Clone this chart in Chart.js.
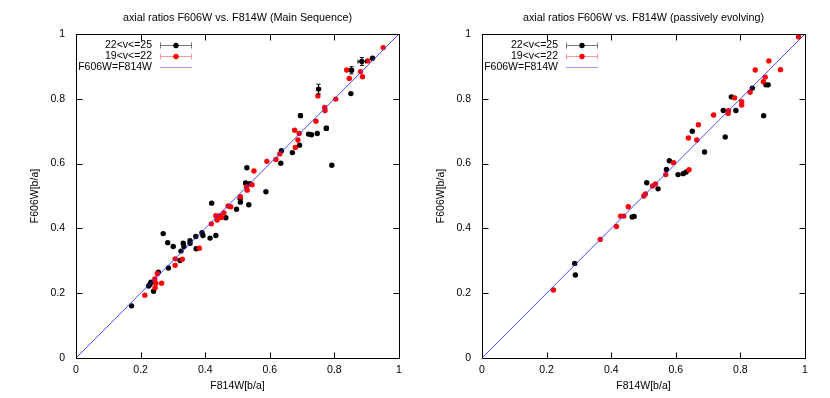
<!DOCTYPE html>
<html><head><meta charset="utf-8">
<script src="https://cdn.jsdelivr.net/npm/chart.js@4/dist/chart.umd.min.js"></script>
<style>
html,body{margin:0;padding:0;background:#fff;}
#wrap{position:relative;width:830px;height:398px;overflow:hidden;}
.panel{position:absolute;top:0;width:415px;height:398px;}
</style></head><body>
<div id="wrap">
<div class="panel" style="left:0"><canvas id="c1" width="415" height="398"></canvas></div>
<div class="panel" style="left:406px"><canvas id="c2" width="415" height="398"></canvas></div>
</div>
<script>
const tickValues = [0, 0.2, 0.4, 0.6, 0.8, 1];
const legendLabels = ['22<v<=25', '19<v<=22', 'F606W=F814W'];
const titles = ['axial ratios F606W vs. F814W (Main Sequence)', 'axial ratios F606W vs. F814W (passively evolving)'];
const xTitle = 'F814W[b/a]';
const yTitle = 'F606W[b/a]';
const diagonal = [[0, 0], [1, 1]];

// Main Sequence, 22<v<=25
const msFaint = [
 [0.918,0.925],[0.885,0.915],[0.853,0.888],[0.851,0.816],[0.751,0.830],[0.695,0.748],
 [0.720,0.691],[0.729,0.689],[0.747,0.693],[0.775,0.709],[0.692,0.657],[0.670,0.634],
 [0.636,0.640],[0.634,0.601],[0.792,0.595],[0.529,0.587],[0.525,0.540],[0.538,0.538],
 [0.588,0.513],[0.508,0.492],[0.509,0.481],[0.420,0.478],[0.535,0.473],[0.497,0.459],
 [0.464,0.433],[0.270,0.384],[0.284,0.356],[0.301,0.344],[0.332,0.354],[0.334,0.344],
 [0.353,0.362],[0.353,0.354],[0.371,0.375],[0.390,0.387],[0.393,0.378],[0.415,0.370],
 [0.433,0.378],[0.325,0.330],[0.372,0.337],[0.322,0.301],[0.286,0.278],[0.255,0.265],
 [0.232,0.234],[0.229,0.227],[0.225,0.222],[0.240,0.206],[0.172,0.161]
];
// Main Sequence, 19<v<=22
const msBright = [
 [0.951,0.958],[0.903,0.917],[0.838,0.889],[0.881,0.884],[0.846,0.863],[0.887,0.868],
 [0.749,0.809],[0.804,0.799],[0.770,0.773],[0.771,0.764],[0.743,0.731],[0.677,0.703],
 [0.691,0.693],[0.687,0.673],[0.679,0.650],[0.631,0.630],[0.619,0.613],[0.591,0.607],
 [0.551,0.577],[0.545,0.535],[0.528,0.528],[0.530,0.518],[0.509,0.498],[0.471,0.469],
 [0.479,0.467],[0.433,0.439],[0.446,0.439],[0.458,0.448],[0.437,0.426],[0.451,0.434],
 [0.419,0.414],[0.382,0.339],[0.307,0.306],[0.329,0.305],[0.307,0.286],[0.252,0.260],
 [0.244,0.244],[0.247,0.231],[0.265,0.231],[0.245,0.217],[0.213,0.194]
];
// error bars on the faint Main Sequence points: x, y, xerr, yerr
const msFaintErr = [
 [0.885,0.915,0.012,0.012],[0.853,0.888,0.004,0.011],[0.751,0.830,0.003,0.015],
 [0.775,0.709,0.006,0.006],[0.695,0.748,0.003,0.006]
];
// passively evolving, 22<v<=25
const peFaint = [
 [0.879,0.843],[0.886,0.843],[0.837,0.833],[0.772,0.806],[0.747,0.764],[0.786,0.764],
 [0.872,0.748],[0.651,0.700],[0.753,0.682],[0.689,0.636],[0.580,0.609],[0.571,0.582],
 [0.632,0.574],[0.623,0.569],[0.607,0.566],[0.510,0.541],[0.545,0.522],[0.465,0.435],
 [0.471,0.437],[0.287,0.292],[0.289,0.256]
];
// passively evolving, 19<v<=22
const peBright = [
 [0.980,0.991],[0.888,0.917],[0.846,0.889],[0.924,0.890],[0.877,0.867],[0.871,0.853],
 [0.830,0.820],[0.782,0.803],[0.804,0.791],[0.804,0.781],[0.763,0.763],[0.762,0.755],
 [0.717,0.750],[0.670,0.720],[0.639,0.679],[0.665,0.673],[0.593,0.603],[0.641,0.581],
 [0.569,0.566],[0.537,0.537],[0.528,0.531],[0.506,0.506],[0.501,0.500],[0.453,0.467],
 [0.429,0.438],[0.439,0.438],[0.416,0.406],[0.366,0.366],[0.221,0.210]
];
const peFaintErr = [];

const FONT = '"Liberation Sans", Arial, sans-serif';
const BLACK = '#000000', RED = '#ff0000', BLUE = '#3333ff';
const R = 2.7;

const toXY = arr => arr.map(p => ({x: p[0], y: p[1]}));

const framePlugin = {
  id: 'frame',
  afterDatasetsDraw(chart, args, opts) {
    const ctx = chart.ctx, a = chart.chartArea;
    const xs = chart.scales.x, ys = chart.scales.y;
    const L = Math.round(a.left) + 0.5, Rr = Math.round(a.right) + 0.5;
    const T = Math.round(a.top) + 0.5, B = Math.round(a.bottom) + 0.5;
    ctx.save();
    // error bars
    ctx.strokeStyle = BLACK; ctx.lineWidth = 1;
    (opts.err || []).forEach(e => {
      const px = xs.getPixelForValue(e[0]), py = ys.getPixelForValue(e[1]);
      const x1 = xs.getPixelForValue(e[0] - e[2]), x2 = xs.getPixelForValue(e[0] + e[2]);
      const y1 = ys.getPixelForValue(e[1] - e[3]), y2 = ys.getPixelForValue(e[1] + e[3]);
      ctx.beginPath();
      ctx.moveTo(x1, py); ctx.lineTo(x2, py);
      ctx.moveTo(x1, py - 2); ctx.lineTo(x1, py + 2);
      ctx.moveTo(x2, py - 2); ctx.lineTo(x2, py + 2);
      ctx.moveTo(px, y1); ctx.lineTo(px, y2);
      ctx.moveTo(px - 2, y1); ctx.lineTo(px + 2, y1);
      ctx.moveTo(px - 2, y2); ctx.lineTo(px + 2, y2);
      ctx.stroke();
    });
    // frame
    ctx.strokeStyle = BLACK; ctx.lineWidth = 1;
    ctx.strokeRect(L, T, Rr - L, B - T);
    // inward ticks on all four sides
    const tl = 6;
    ctx.beginPath();
    tickValues.forEach(v => {
      const px = Math.round(xs.getPixelForValue(v)) + 0.5;
      ctx.moveTo(px, B); ctx.lineTo(px, B - tl);
      ctx.moveTo(px, T); ctx.lineTo(px, T + tl);
      const py = Math.round(ys.getPixelForValue(v)) + 0.5;
      ctx.moveTo(L, py); ctx.lineTo(L + tl, py);
      ctx.moveTo(Rr, py); ctx.lineTo(Rr - tl, py);
    });
    ctx.stroke();
    // legend
    ctx.font = '10.5px ' + FONT;
    ctx.textAlign = 'right'; ctx.textBaseline = 'middle';
    const rows = [
      {label: legendLabels[0], line: '#777777', pt: BLACK},
      {label: legendLabels[1], line: '#ff9999', pt: RED},
      {label: legendLabels[2], line: '#9999ff', pt: null}
    ];
    rows.forEach((r, i) => {
      const y = Math.round(a.top + 11 + i * 11) + 0.5;
      ctx.fillStyle = BLACK;
      ctx.fillText(r.label, a.left + 76, y);
      const s1 = a.left + 84, s2 = a.left + 116;
      ctx.strokeStyle = r.line; ctx.lineWidth = 1;
      ctx.beginPath();
      ctx.moveTo(s1, y); ctx.lineTo(s2, y);
      if (r.pt) {
        ctx.moveTo(s1 + 0.5, y - 3); ctx.lineTo(s1 + 0.5, y + 3);
        ctx.moveTo(s2 - 0.5, y - 3); ctx.lineTo(s2 - 0.5, y + 3);
      }
      ctx.stroke();
      if (r.pt) {
        ctx.fillStyle = r.pt;
        ctx.beginPath(); ctx.arc((s1 + s2) / 2, y, R, 0, Math.PI * 2); ctx.fill();
      }
    });
    ctx.restore();
  }
};

function makeChart(id, title, faint, bright, err) {
  return new Chart(document.getElementById(id), {
    type: 'scatter',
    data: {
      datasets: [
        {label: legendLabels[2], type: 'line', data: toXY(diagonal), borderColor: BLUE, borderWidth: 0.9,
         pointRadius: 0, fill: false, order: 0},
        {label: legendLabels[1], data: toXY(bright), backgroundColor: RED, borderWidth: 0,
         pointRadius: R, order: 1},
        {label: legendLabels[0], data: toXY(faint), backgroundColor: BLACK, borderWidth: 0,
         pointRadius: R, order: 2}
      ]
    },
    options: {
      responsive: false,
      animation: false,
      events: [],
      layout: {padding: {left: 0, right: 16, top: 0, bottom: 0}},
      plugins: {
        legend: {display: false},
        tooltip: {enabled: false},
        title: {display: true, text: title, fullSize: false, color: BLACK,
                font: {family: FONT, size: 10.8, weight: 'normal'}, padding: {top: 12, bottom: 9.04}},
        frame: {err: err}
      },
      scales: {
        x: {type: 'linear', min: 0, max: 1,
            afterBuildTicks: s => { s.ticks = tickValues.map(v => ({value: v})); },
            afterFit: s => { s.height = 40; },
            grid: {display: false, drawTicks: false}, border: {display: false},
            ticks: {color: BLACK, padding: 6, font: {family: FONT, size: 10.5}, maxRotation: 0,
                    callback: v => String(v)},
            title: {display: true, text: xTitle, color: BLACK, font: {family: FONT, size: 10.5},
                    padding: {top: 0, bottom: 6}}},
        y: {type: 'linear', min: 0, max: 1,
            afterBuildTicks: s => { s.ticks = tickValues.map(v => ({value: v})); },
            afterFit: s => { s.width = 76; },
            grid: {display: false, drawTicks: false}, border: {display: false},
            ticks: {color: BLACK, padding: 11, font: {family: FONT, size: 10.5},
                    callback: v => String(v)},
            title: {display: true, text: yTitle, color: BLACK, font: {family: FONT, size: 10.5},
                    padding: {top: 29, bottom: 0}}}
      }
    },
    plugins: [framePlugin]
  });
}

makeChart('c1', titles[0], msFaint, msBright, msFaintErr);
makeChart('c2', titles[1], peFaint, peBright, peFaintErr);
</script>
</body></html>
